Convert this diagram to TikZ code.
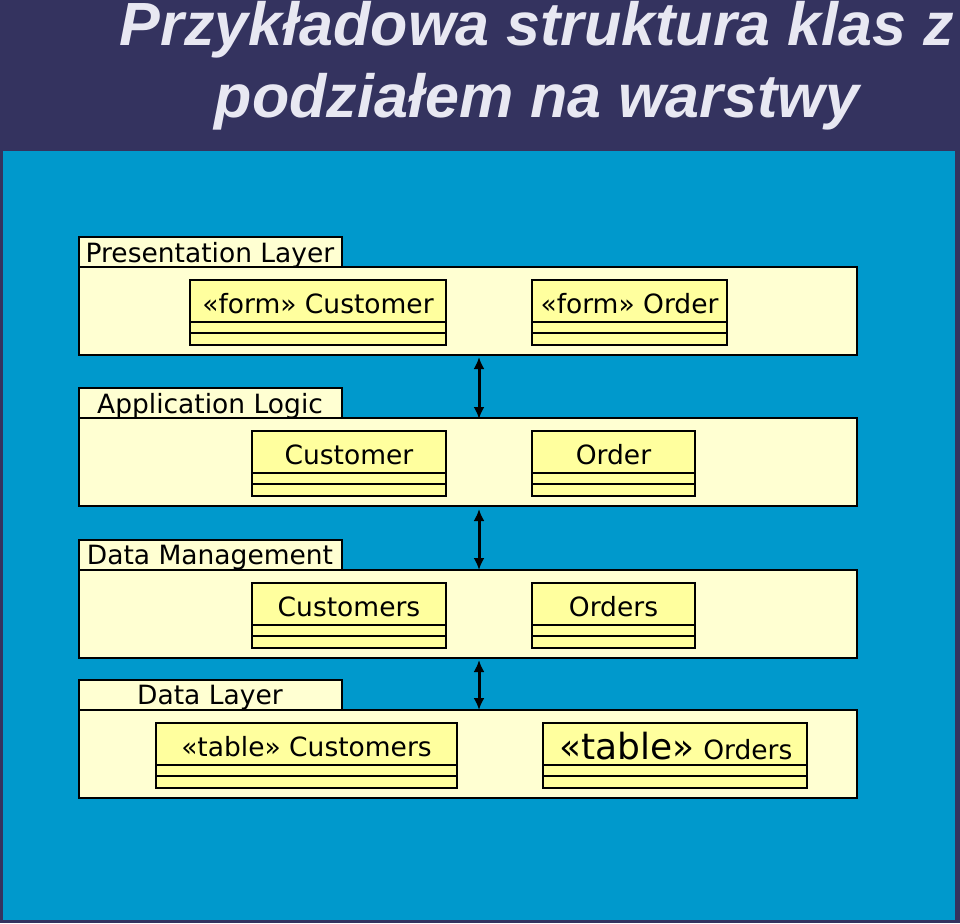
\documentclass[tikz,border=0pt]{standalone}
\usepackage{fontspec}
\setmainfont{DejaVu Sans}
\newfontfamily\titlefont{Liberation Sans}
\usetikzlibrary{arrows.meta}
\definecolor{navy}{HTML}{34335F}
\definecolor{panel}{HTML}{0099CC}
\definecolor{pkg}{HTML}{FFFFD2}
\definecolor{cls}{HTML}{FFFF9E}
\definecolor{ttl}{HTML}{E8E8F2}
\tikzset{pkgbox/.style={draw=black,fill=pkg,line width=1.5pt},
 clsbox/.style={draw=black,fill=cls,line width=1.5pt},
 lbl/.style={inner sep=0pt,font=\fontsize{26.5}{30}\selectfont},
 dep/.style={line width=3pt,{Latex[length=12pt,width=11pt]}-{Latex[length=12pt,width=11pt]}}}
\begin{document}
\begin{tikzpicture}[x=1pt,y=-1pt]
\useasboundingbox (0,0) rectangle (960,923);
\fill[navy] (0,0) rectangle (960,923);
\fill[panel] (3,151) rectangle (955,920);
\node[text=ttl,font=\titlefont\bfseries\itshape\fontsize{61}{72}\selectfont,align=center,inner sep=0pt] (title) at (537,66) {Przykładowa struktura klas z\\podziałem na warstwy};
% packages
\newcommand\pkgdraw[4]{%
 \draw[pkgbox] (79,#1) rectangle (342,#1+30);
 \draw[pkgbox] (79,#1+30) rectangle (857,#1+118);
 \node[lbl] (#3) at (#4,#1+18) {#2};}
\pkgdraw{237}{Presentation Layer}{pl}{210}
\pkgdraw{388}{Application Logic}{al}{210}
\pkgdraw{540}{Data Management}{dm}{210}
\pkgdraw{680}{Data Layer}{dl}{210}
% classes
\newcommand\clsdraw[6]{%
 \draw[clsbox] (#1,#3) rectangle (#2,#3+65);
 \draw[line width=1.5pt] (#1,#3+42) -- (#2,#3+42) (#1,#3+53) -- (#2,#3+53);
 \node[lbl] (#5) at ({(#1+#2)/2},#3+24) {#4};}
\clsdraw{190}{446}{280}{«form» Customer}{fc}{}
\clsdraw{532}{727}{280}{«form» Order}{fo}{}
\clsdraw{252}{446}{431}{Customer}{c}{}
\clsdraw{532}{695}{431}{Order}{o}{}
\clsdraw{252}{446}{583}{Customers}{cs}{}
\clsdraw{532}{695}{583}{Orders}{os}{}
\clsdraw{156}{457}{723}{«table» Customers}{tc}{}
\clsdraw{543}{807}{723}{}{to}{}
\node[inner sep=0pt,anchor=base] (tot) at (676,759) {{\fontsize{36}{40}\selectfont«table»}{\fontsize{26.5}{30}\selectfont\ Orders}};
% dependencies
\coordinate (a1) at (479,357); \coordinate (a2) at (479,419);
\coordinate (b1) at (479,509); \coordinate (b2) at (479,570);
\coordinate (c1) at (479,660); \coordinate (c2) at (479,710);
\draw[dep] (a1) -- (a2);
\draw[dep] (b1) -- (b2);
\draw[dep] (c1) -- (c2);
\end{tikzpicture}
\end{document}
